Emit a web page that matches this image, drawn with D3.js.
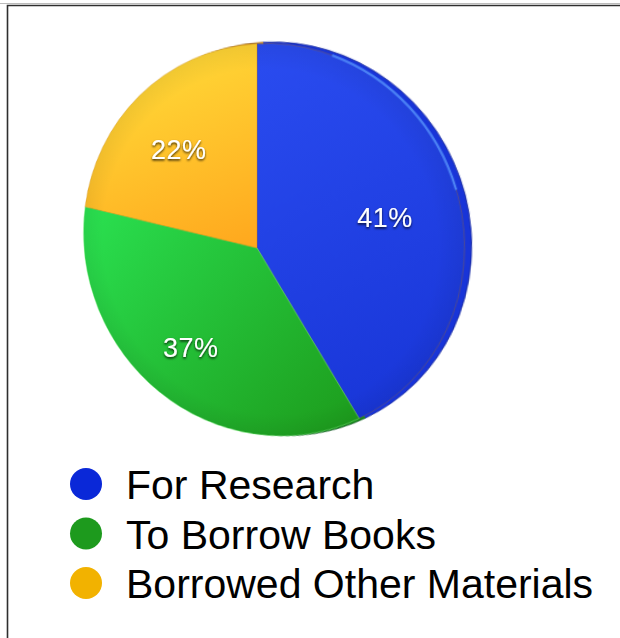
<!DOCTYPE html>
<html><head><meta charset="utf-8">
<script src="https://cdn.jsdelivr.net/npm/d3@7"></script>
<style>
html,body{margin:0;padding:0;background:#fff;}
#wrap{position:relative;width:620px;height:638px;overflow:hidden;}
#wrap svg{position:absolute;overflow:visible;}
</style></head><body><div id="wrap"></div>
<script>
// ---- data ----
const categories = ["For Research", "To Borrow Books", "Borrowed Other Materials"];
const values = [41, 37, 22];
const valueLabels = ["41%", "37%", "22%"];
const faceTop = ["#2a4cf0", "#2be453", "#ffd535"];
const faceBottom = ["#1734d6", "#1d9c1c", "#ffa51c"];
const rimColors = ["#1834d8", "#178a18", "#e89a18"];
const legendColors = ["#0a28d8", "#1d9a1d", "#f2b200"];

// ---- layout ----
const W = 620, H = 638;
const apexX = 257, apexY = 248;
const R = 197, S = 215;
const persp = 620, rotX = -8.3, rotY = -16.5;

const wrap = d3.select("#wrap");

// background svg (border + legend)
const bg = wrap.append("svg").attr("width", W).attr("height", H).style("left", "0px").style("top", "0px");
bg.append("path").attr("d", `M0,3.5H${W}`).attr("stroke", "#bbb").attr("stroke-width", 1).attr("fill", "none");
bg.append("path").attr("d", `M7.5,${H}V5.5H${W}`).attr("stroke", "#2e2e2e").attr("stroke-width", 1.6).attr("fill", "none");

const legend = bg.append("g").attr("font-family", "'Liberation Sans', Arial, Helvetica, sans-serif");
const rowY = d3.scaleLinear().domain([0, 2]).range([499, 598]);
categories.forEach((c, i) => {
  legend.append("circle").attr("cx", 86).attr("cy", rowY(i) - 15).attr("r", 16).attr("fill", legendColors[i]);
  legend.append("text").attr("x", 126).attr("y", rowY(i)).attr("font-size", 41).attr("fill", "#000").text(c);
});

// pie svg with 3D perspective
const pieSvg = wrap.append("svg")
  .attr("width", 2 * S).attr("height", 2 * S)
  .style("left", (apexX - S) + "px").style("top", (apexY - S) + "px")
  .style("transform-origin", `${S}px ${S}px`)
  .style("transform", `perspective(${persp}px) rotateX(${rotX}deg) rotateY(${rotY}deg)`);

const defs = pieSvg.append("defs");
const gradVec = [
  [0, -R, R * 0.9, R * 0.9],
  [-R, -0.3 * R, 0.45 * R, R],
  [-0.2 * R, -R, 0.15 * R, 0]
];
values.forEach((v, i) => {
  const gr = defs.append("linearGradient").attr("id", "g" + i).attr("gradientUnits", "userSpaceOnUse")
    .attr("x1", gradVec[i][0]).attr("y1", gradVec[i][1]).attr("x2", gradVec[i][2]).attr("y2", gradVec[i][3]);
  gr.append("stop").attr("offset", 0).attr("stop-color", faceTop[i]);
  gr.append("stop").attr("offset", 1).attr("stop-color", faceBottom[i]);
});
const vg = defs.append("radialGradient").attr("id", "vig");
vg.append("stop").attr("offset", 0.88).attr("stop-color", "#000").attr("stop-opacity", 0);
vg.append("stop").attr("offset", 1).attr("stop-color", "#000").attr("stop-opacity", 0.06);

const pie = d3.pie().sort(null).value(d => d);
const arcs = pie(values);
const arc = d3.arc().innerRadius(0).outerRadius(R);

const pg = pieSvg.append("g").attr("transform", `translate(${S},${S})`);
// rim (thickness)
pg.append("g").attr("transform", "translate(6,-1)")
  .selectAll("path").data(arcs).join("path")
  .attr("d", arc).attr("fill", (d, i) => rimColors[i])
  .attr("stroke", (d, i) => rimColors[i]).attr("stroke-width", 0.6);
pg.append("circle").attr("cx", 6).attr("cy", -1).attr("r", R).attr("fill", "none")
  .attr("stroke", "rgba(0,0,50,0.3)").attr("stroke-width", 1);
// faces
pg.selectAll("path.face").data(arcs).join("path").attr("class", "face")
  .attr("d", arc).attr("fill", (d, i) => `url(#g${i})`)
  .attr("stroke", (d, i) => i === 1 ? "rgba(140,255,140,0.6)" : "rgba(200,120,0,0.35)").attr("stroke-width", 0.8);
pg.append("circle").attr("r", R).attr("fill", "url(#vig)");
// highlight along top-right edge
const hl = d3.arc().innerRadius(R - 1.2).outerRadius(R + 0.8).startAngle(Math.PI * 0.12).endAngle(Math.PI * 0.40);
pg.append("path").attr("d", hl()).attr("fill", "#4f8cff").attr("opacity", 0.85);

// labels overlay (projected from flat pie coordinates)
function project(x, y) {
  const a = rotY * Math.PI / 180, b = rotX * Math.PI / 180;
  const x1 = x * Math.cos(a), z1 = -x * Math.sin(a), y1 = y;
  const y2 = y1 * Math.cos(b) - z1 * Math.sin(b);
  const z2 = y1 * Math.sin(b) + z1 * Math.cos(b);
  const s = persp / (persp - z2);
  return [apexX + x1 * s, apexY + y2 * s];
}
const overlay = wrap.append("svg").attr("width", W).attr("height", H).style("left", "0px").style("top", "0px");
const flt = overlay.append("defs").append("filter").attr("id", "sh").attr("x", "-20%").attr("y", "-30%").attr("width", "140%").attr("height", "160%");
flt.append("feDropShadow").attr("dx", 0).attr("dy", 1.5).attr("stdDeviation", 1.1).attr("flood-color", "#000").attr("flood-opacity", 0.8);
const labelArc = d3.arc().innerRadius(R * 0.66).outerRadius(R * 0.66);
overlay.selectAll("text").data(arcs).join("text")
  .attr("transform", (d, i) => { const c = labelArc.centroid(d); const p = project(c[0], c[1]); return `translate(${p[0]},${p[1] + 2})`; })
  .attr("text-anchor", "middle").attr("dy", "0.36em")
  .attr("font-family", "'Liberation Sans', Arial, Helvetica, sans-serif")
  .attr("font-size", 27).attr("letter-spacing", 0.5)
  .attr("fill", "#fff").attr("filter", "url(#sh)")
  .text((d, i) => valueLabels[i]);
</script></body></html>
